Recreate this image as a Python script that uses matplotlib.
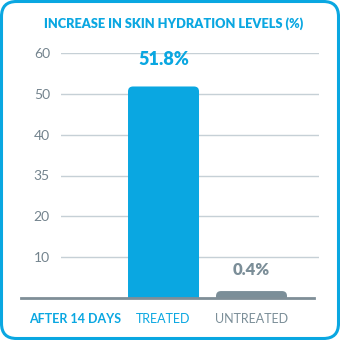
import matplotlib
matplotlib.use("Agg")
import matplotlib.pyplot as plt
from matplotlib.patches import FancyBboxPatch

categories = ["AFTER 14 DAYS", "TREATED", "UNTREATED"]
values = [None, 51.8, 0.4]
value_labels = ["", "51.8%", "0.4%"]
tick_pos = [10, 20, 30, 40, 50, 60]
tick_labels = ["10", "20", "35", "40", "50", "60"]
title = "INCREASE IN SKIN HYDRATION LEVELS (%)"

BLUE = "#0aa7e1"
GRAY = "#7b8e98"
TICK = "#73838d"
GRID = "#c6d0d6"
bar_colors = [BLUE, BLUE, GRAY]
label_colors = [BLUE, BLUE, GRAY]
label_weights = ["bold", "normal", "normal"]

plt.rcParams["font.family"] = ["Lato", "DejaVu Sans"]

W = H = 340
fig = plt.figure(figsize=(3.4, 3.4), dpi=100)
# axes box in pixels: x 61..319, y (from top) 53..298
ax = fig.add_axes([61 / W, (H - 298) / H, (319 - 61) / W, (298 - 53) / H])
ax.set_ylim(0, 60)
ax.set_xlim(-0.165, 2.767)
for s in ax.spines.values():
    s.set_visible(False)

ax.set_yticks(tick_pos)
ax.set_yticklabels(tick_labels, fontsize=10, color=TICK)
ax.tick_params(axis="y", length=0, pad=8)
ax.yaxis.grid(True, color=GRID, linewidth=1)
ax.set_axisbelow(True)

ax.set_xticks(range(len(categories)))
ax.set_xticklabels(categories, fontsize=9)
for t, c, w in zip(ax.get_xticklabels(), label_colors, label_weights):
    t.set_color(c)
    t.set_fontweight(w)
ax.tick_params(axis="x", length=0, pad=11)

# baseline
ax.plot([-0.62, 2.71], [0, 0], color="#7f8e97", lw=2, clip_on=False, zorder=4)

bar_w = 71 / 88
px_x = 88.0
px_y = 245 / 60
r_px = 5
min_h = 1.7
for i, v in enumerate(values):
    if v is None:
        continue
    h = max(v, min_h)
    r = r_px / px_x
    p = FancyBboxPatch((i - bar_w / 2, -3), bar_w, h + 3,
                       boxstyle=f"round,pad=0,rounding_size={r}",
                       mutation_aspect=px_x / px_y,
                       facecolor=bar_colors[i], edgecolor="none", zorder=3)
    ax.add_patch(p)
    off = 4.5 if v > 10 else 3.2
    ax.text(i, h + off, value_labels[i], ha="center", va="bottom",
            color=bar_colors[i], fontsize=13 if v > 10 else 12,
            fontweight="heavy")

fig.text(173.5 / W, (H - 24) / H, title, ha="center", va="center",
         color=BLUE, fontsize=9.2, fontweight="heavy")

border = FancyBboxPatch((1.5 / W, 1.5 / H), 1 - 3 / W, 1 - 3 / H,
                        boxstyle=f"round,pad=0,rounding_size={15 / W}",
                        transform=fig.transFigure, facecolor="none",
                        edgecolor=BLUE, linewidth=2.2, clip_on=False)
fig.patches.append(border)

fig.savefig("out.png", dpi=100)
